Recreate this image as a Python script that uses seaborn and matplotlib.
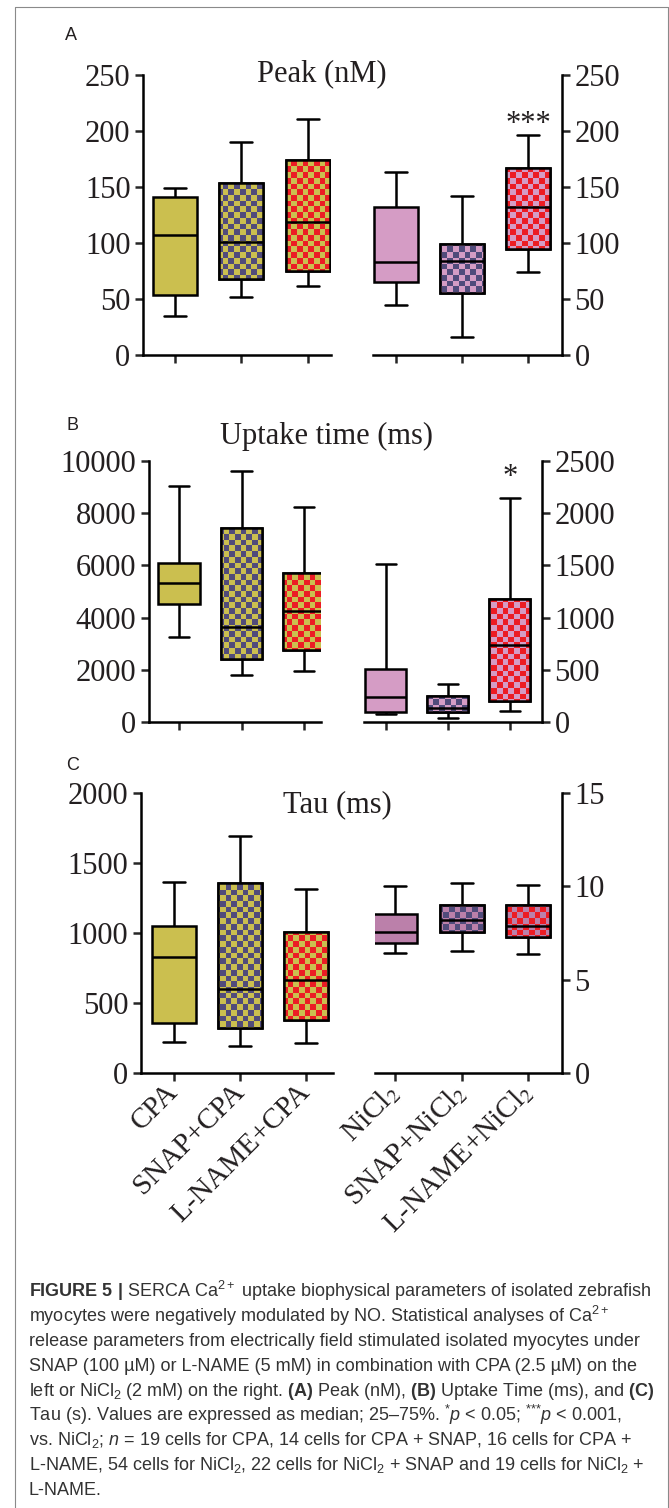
import numpy as np
import pandas as pd
import matplotlib
matplotlib.use("Agg")
import matplotlib.pyplot as plt
import matplotlib.patches as mpatches
import matplotlib.lines as mlines
from matplotlib.colors import to_rgb
import seaborn as sns

# groups on each half of every panel
left_groups = ["CPA", "SNAP+CPA", "L-NAME+CPA"]
right_groups = ["NiCl$_2$", "SNAP+NiCl$_2$", "L-NAME+NiCl$_2$"]

# min, 25%, median, 75%, max for each group
peak_left = [[35, 54, 107, 141, 149], [52, 68, 101, 154, 190], [62, 75, 119, 174, 211]]
peak_right = [[45, 65, 83, 132, 163], [16, 55, 84, 99, 142], [74, 95, 132, 167, 196]]
uptake_left = [[3250, 4510, 5320, 6080, 9040], [1800, 2420, 3630, 7440, 9600],
               [1970, 2770, 4260, 5720, 8220]]
uptake_right = [[76, 92, 239, 509, 1513], [41, 98, 134, 248, 363], [108, 197, 739, 1175, 2144]]
tau_left = [[219, 357, 826, 1052, 1364], [195, 319, 602, 1355, 1695], [212, 376, 662, 1007, 1316]]
tau_right = [[6.43, 6.96, 7.55, 8.53, 10.03], [6.51, 7.53, 8.21, 9.01, 10.18],
             [6.39, 7.28, 7.85, 8.98, 10.07]]

panel_titles = ["Peak (nM)", "Uptake time (ms)", "Tau (ms)"]
panel_letters = ["A", "B", "C"]
left_ticks = [[0, 50, 100, 150, 200, 250], [0, 2000, 4000, 6000, 8000, 10000], [0, 500, 1000, 1500, 2000]]
right_ticks = [[0, 50, 100, 150, 200, 250], [0, 500, 1000, 1500, 2000, 2500], [0, 5, 10, 15]]
star_text = ["***", "*", ""]
star_value = [199, 2270, None]

caption_lines = [
    r"$\mathbf{FIGURE\ 5\ |}$ SERCA Ca$^{2+}$ uptake biophysical parameters of isolated zebrafish",
    r"myocytes were negatively modulated by NO. Statistical analyses of Ca$^{2+}$",
    "release parameters from electrically field stimulated isolated myocytes under",
    "SNAP (100 µM) or L-NAME (5 mM) in combination with CPA (2.5 µM) on the",
    r"left or NiCl$_2$ (2 mM) on the right. $\mathbf{(A)}$ Peak (nM), $\mathbf{(B)}$ Uptake Time (ms), and $\mathbf{(C)}$",
    r"Tau (s). Values are expressed as median; 25–75%. $^{{*}}\mathit{p}$ < 0.05; $^{{*}{*}{*}}\mathit{p}$ < 0.001,",
    r"vs. NiCl$_2$; $\mathit{n}$ = 19 cells for CPA, 14 cells for CPA + SNAP, 16 cells for CPA +",
    r"L-NAME, 54 cells for NiCl$_2$, 22 cells for NiCl$_2$ + SNAP and 19 cells for NiCl$_2$ +",
    "L-NAME.",
]

yellow = "#cbbf4f"
pink_ab = "#d59cc5"
pink_c = "#bb80aa"
navy = "#514b7b"
red = "#ec1c24"
check_colors = [None, navy, red]

sns.set_style("ticks")
plt.rcParams["font.family"] = ["Liberation Serif", "DejaVu Serif"]
plt.rcParams["mathtext.fontset"] = "stix"
plt.rcParams["mathtext.rm"] = "Liberation Sans"
plt.rcParams["mathtext.it"] = "Liberation Sans:italic"
plt.rcParams["mathtext.bf"] = "Liberation Sans:bold"

W, H = 669, 1508
fig = plt.figure(figsize=(W / 100, H / 100), dpi=100)

# axes boxes in pixels: left, top, right, bottom
ax_px = [
    [(143, 75, 331, 355), (373, 75, 562, 355)],
    [(149, 461, 321, 722), (363.5, 461, 542, 722)],
    [(141, 793, 333, 1073), (374.6, 793, 562, 1073)],
]
xlims = [
    [(-0.48, 2.35), (-0.35, 2.515)],
    [(-0.48, 2.27), (-0.36, 2.516)],
    [(-0.5, 2.41), (-0.31, 2.51)],
]
title_px = [(322, 74), (326, 436), (337, 805)]
letter_px = [(65, 35), (66, 425), (66, 765)]
LW = 1.8
CELL = 5.7


def add_ax(box):
    l, t, r, b = box
    return fig.add_axes([l / W, 1 - b / H, (r - l) / W, (b - t) / H])


def draw_half(ax, box, groups, summaries, base, ticks, xlim, side, show_labels):
    df = pd.DataFrame({"cond": np.repeat(groups, 5), "val": np.concatenate(summaries)})
    sns.boxplot(data=df, x="cond", y="val", hue="cond", order=groups, hue_order=groups,
                palette={g: base for g in groups}, saturation=1, width=0.66,
                whis=(0, 100), linewidth=LW, linecolor="black", legend=False, ax=ax)
    ylim = (ticks[0], ticks[-1])
    l, t, r, b = box
    nx, ny = int(round((r - l) / CELL)), int(round((b - t) / CELL))
    mask = (np.add.outer(np.arange(ny), np.arange(nx)) % 2).astype(bool)
    for p in list(ax.patches):
        idx = int(round(p.get_path().vertices[:, 0].mean()))
        chk = check_colors[idx]
        if chk is None:
            continue
        img = np.zeros((ny, nx, 3))
        img[mask] = to_rgb(chk)
        img[~mask] = to_rgb(base)
        im = ax.imshow(img, extent=(xlim[0], xlim[1], ylim[0], ylim[1]), origin="lower",
                       aspect="auto", interpolation="nearest", zorder=2.05)
        im.set_clip_path(p)
        ax.add_patch(mpatches.PathPatch(p.get_path(), transform=p.get_transform(),
                                        fill=False, ec="black", lw=LW, zorder=2.08))
    ax.set_xlim(xlim)
    ax.set_ylim(ylim)
    ax.set_yticks(ticks)
    ax.set_xticks([0, 1, 2])
    ax.set_xlabel("")
    ax.set_ylabel("")
    ax.spines["top"].set_visible(False)
    if side == "left":
        ax.spines["right"].set_visible(False)
    else:
        ax.spines["left"].set_visible(False)
        ax.yaxis.tick_right()
    for s in ax.spines.values():
        s.set_linewidth(LW)
        s.set_color("black")
    ax.tick_params(length=6, width=LW, pad=3, labelsize=22, labelcolor="#231f20")
    if show_labels:
        ax.set_xticklabels(groups, rotation=45, ha="right", va="center",
                           rotation_mode="anchor", fontsize=21, math_fontfamily="stix")
        ax.tick_params(axis="x", pad=5)
    else:
        ax.tick_params(axis="x", labelbottom=False)


panels = [(peak_left, peak_right), (uptake_left, uptake_right), (tau_left, tau_right)]
for i, (lv, rv) in enumerate(panels):
    axl = add_ax(ax_px[i][0])
    axr = add_ax(ax_px[i][1])
    draw_half(axl, ax_px[i][0], left_groups, lv, yellow, left_ticks[i], xlims[i][0], "left", i == 2)
    draw_half(axr, ax_px[i][1], right_groups, rv, pink_c if i == 2 else pink_ab,
              right_ticks[i], xlims[i][1], "right", i == 2)
    if star_text[i]:
        axr.text(2, star_value[i], star_text[i], ha="center", va="baseline",
                 fontsize=22, color="#231f20")
    tx, ty = title_px[i]
    fig.text(tx / W, 1 - ty / H, panel_titles[i], ha="center", va="center",
             fontsize=22, color="#231f20")
    lx, ly = letter_px[i]
    fig.text(lx / W, 1 - ly / H, panel_letters[i], ha="left", va="center",
             fontsize=13, family="Liberation Sans", color="#231f20")

# caption
for k, line in enumerate(caption_lines):
    fig.text(29 / W, 1 - (1297 + 24.75 * k) / H, line, ha="left", va="baseline",
             fontsize=13, family="Liberation Sans", color="#333333",
             math_fontfamily="custom")

# thin frame around the figure
fig.add_artist(mlines.Line2D([15 / W, 15 / W, 668 / W, 668 / W], [0, 1 - 7 / H, 1 - 7 / H, 0],
                             transform=fig.transFigure, color="#8a8a8a", lw=0.8))

fig.savefig("out.png", dpi=100)
